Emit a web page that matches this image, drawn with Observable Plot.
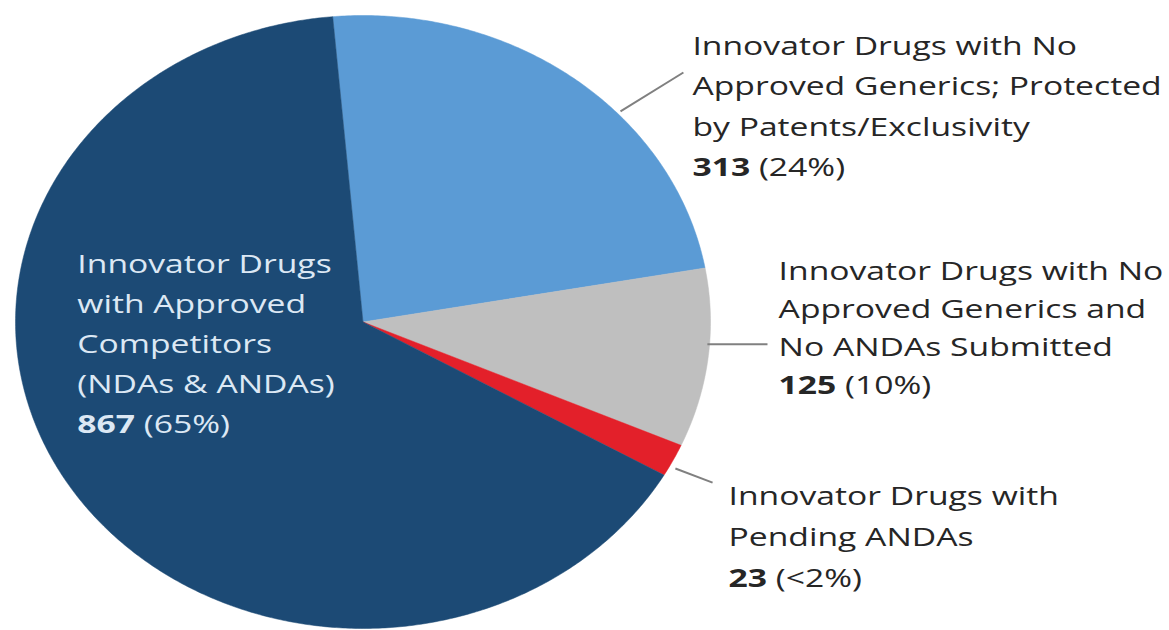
<!DOCTYPE html>
<html>
<head>
<meta charset="utf-8">
<script src="https://cdn.jsdelivr.net/npm/d3@7"></script>
<script src="https://cdn.jsdelivr.net/npm/@observablehq/plot@0.6"></script>
<style>
  html, body { margin: 0; padding: 0; background: #fff; }
  #chart svg { display: block; }
</style>
</head>
<body>
<div id="chart"></div>
<script>
// ---- data ----
const categories = [
  "Innovator Drugs with No Approved Generics; Protected by Patents/Exclusivity",
  "Innovator Drugs with No Approved Generics and No ANDAs Submitted",
  "Innovator Drugs with Pending ANDAs",
  "Innovator Drugs with Approved Competitors (NDAs & ANDAs)"
];
const counts = [313, 125, 23, 867];
const shareLabels = ["24%", "10%", "<2%", "65%"];
const labelLines = [
  ["Innovator Drugs with No", "Approved Generics; Protected", "by Patents/Exclusivity"],
  ["Innovator Drugs with No", "Approved Generics and", "No ANDAs Submitted"],
  ["Innovator Drugs with", "Pending ANDAs"],
  ["Innovator Drugs", "with Approved", "Competitors", "(NDAs & ANDAs)"]
];

// ---- style / layout (kept separate from data) ----
const colors = ["#5b9bd5", "#bfbfbf", "#e3202a", "#1c4a75"];
const textColors = ["#262626", "#262626", "#262626", "#dce8f4"];
const W = 1169, H = 630;
const cx = 362.5, cy = 321.5, rx = 347.5, ry = 306.5;   // ellipse in px
const startDeg = -5;
const fontSize = 25.5, stretchX = 1.32;
// label anchor (unit coords), leader line (unit coords)
const labelPos = [
  {u: 0.948, v: 0.966, lh: 1.59, leader: [0.741, 0.687, 0.922, 0.814]},
  {u: 1.196, v: 0.227, lh: 1.50, leader: [0.991, -0.073, 1.164, -0.073]},
  {u: 1.052, v: -0.502, lh: 1.61, leader: [0.899, -0.478, 1.006, -0.524]},
  {u: -0.822, v: 0.254, lh: 1.57, leader: null}
];

// ---- geometry from data ----
const total = d3.sum(counts);
const slicePts = [];
let acc = startDeg;
counts.forEach((c, i) => {
  const span = c / total * 360;
  const a0 = acc, a1 = acc + span;
  acc = a1;
  slicePts.push({k: i, u: 0, v: 0});
  const n = Math.max(4, Math.ceil(span / 0.5));
  for (let j = 0; j <= n; j++) {
    const a = (a0 + (a1 - a0) * j / n) * Math.PI / 180;
    slicePts.push({k: i, u: Math.sin(a), v: Math.cos(a)});
  }
  slicePts.push({k: i, u: 0, v: 0});
});

const labels = categories.map((cat, i) => ({
  k: i,
  u: labelPos[i].u,
  v: labelPos[i].v,
  text: [...labelLines[i], counts[i] + " (" + shareLabels[i] + ")"].join("\n")
}));
const leaders = labelPos.map((p, i) => p.leader ? {k: i, x1: p.leader[0], y1: p.leader[1], x2: p.leader[2], y2: p.leader[3]} : null).filter(Boolean);

const font = "'Open Sans', 'Noto Sans', sans-serif";
const marks = [
  Plot.line(slicePts, {x: "u", y: "v", z: "k", fill: d => colors[d.k], stroke: d => colors[d.k], strokeWidth: 0.5, curve: "linear"}),
  Plot.link(leaders, {x1: "x1", y1: "y1", x2: "x2", y2: "y2", stroke: "#808080", strokeWidth: 2})
];
labels.forEach((l, i) => {
  marks.push(Plot.text([l], {
    x: "u", y: "v", text: "text",
    textAnchor: "start", lineAnchor: "top", lineHeight: labelPos[i].lh,
    fill: textColors[i], fontSize: fontSize, fontFamily: font, fontWeight: 500,
    className: "lbl"
  }));
});

const chart = Plot.plot({
  width: W, height: H,
  marginTop: 0, marginRight: 0, marginBottom: 0, marginLeft: 0,
  x: {type: "linear", domain: [-cx / rx, (W - cx) / rx], range: [0, W], axis: null},
  y: {type: "linear", domain: [(cy - H) / ry, cy / ry], range: [H, 0], axis: null},
  color: {type: "identity"},
  style: {background: "#fff", fontFamily: font},
  marks
});

// bold count on last line of each label; horizontal stretch like the reference
const ns = "http://www.w3.org/2000/svg";
chart.querySelectorAll("g.lbl text").forEach(t => {
  const tr = t.getAttribute("transform");
  if (tr) {
    t.setAttribute("transform", tr + ` scale(${stretchX},1)`);
  } else {
    const x = +t.getAttribute("x") || 0, y = +t.getAttribute("y") || 0;
    t.removeAttribute("x"); t.removeAttribute("y");
    t.setAttribute("transform", `translate(${x},${y}) scale(${stretchX},1)`);
  }
  const spans = t.querySelectorAll("tspan");
  const last = spans.length ? spans[spans.length - 1] : t;
  const s = last.textContent;
  const m = s.match(/^(\s*)(\d+)(.*)$/);
  if (!m) return;
  last.textContent = "";
  const b = document.createElementNS(ns, "tspan");
  b.setAttribute("font-weight", "bold");
  b.textContent = m[1] + m[2];
  const r = document.createElementNS(ns, "tspan");
  r.textContent = m[3];
  last.appendChild(b);
  last.appendChild(r);
});

document.getElementById("chart").appendChild(chart);
</script>
</body>
</html>
